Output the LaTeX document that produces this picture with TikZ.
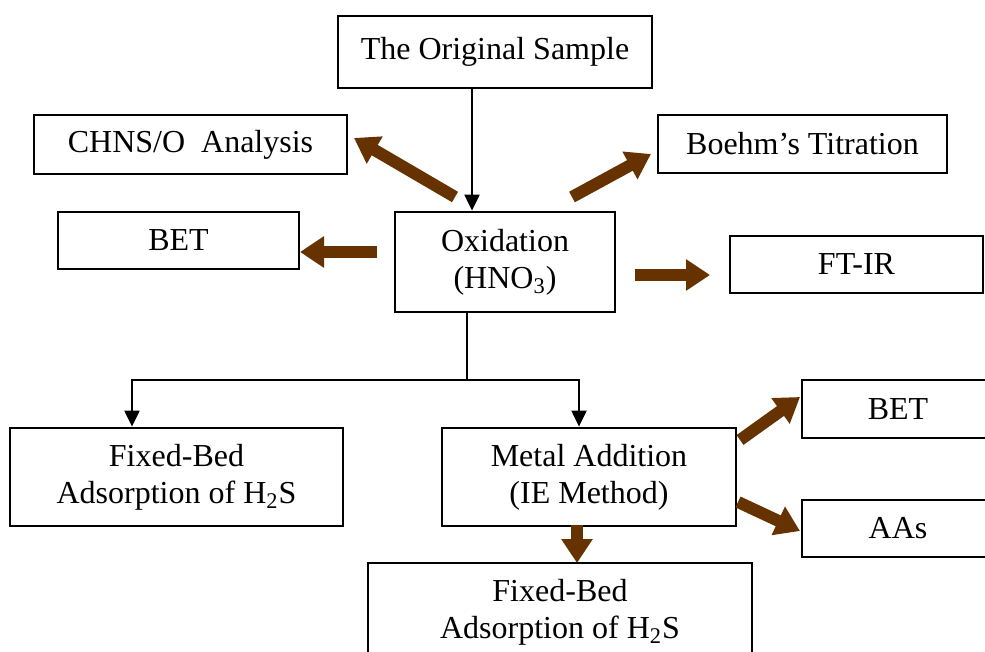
\documentclass[tikz,border=0pt]{standalone}
\usepackage{fontspec}
\setmainfont{Liberation Serif}
\usetikzlibrary{arrows.meta}
\definecolor{arrowbrown}{RGB}{102,51,0}
\tikzset{
  box/.style={draw, line width=1.4pt, fill=white, inner sep=0pt, align=center,
    font=\fontsize{16}{18.5}\selectfont},
  thin/.style={line width=1.1pt, -{Triangle[width=7.5pt,length=8pt]}},
  fat/.style={draw=arrowbrown, line width=6pt, -{Triangle[width=15pt,length=12pt]}}
}
\begin{document}
\begin{tikzpicture}[x=0.5pt,y=-0.5pt]
\useasboundingbox (0,0) rectangle (985,652);
\clip (0,0) rectangle (985,652);
% boxes
\node[box, minimum width=157pt, minimum height=36pt] (orig) at (495,52) {The Original Sample};
\node[box, minimum width=156.5pt, minimum height=29.5pt] (chns) at (190.5,144.5) {CHNS/O~~Analysis};
\node[box, minimum width=144.5pt, minimum height=29pt] (boehm) at (802.5,144) {Boehm’s Titration};
\node[box, minimum width=120.5pt, minimum height=28.5pt] (betL) at (178.5,240.5) {BET};
\node[box, minimum width=110pt, minimum height=50pt] (oxid) at (505,262) {Oxidation\\(HNO\textsubscript{3})};
\node[box, minimum width=126.5pt, minimum height=28.5pt] (ftir) at (856.5,264.5) {FT-IR};
\node[box, minimum width=166.5pt, minimum height=49pt] (fbL) at (176.5,477) {Fixed-Bed\\Adsorption of H\textsubscript{2}S};
\node[box, minimum width=147pt, minimum height=49pt] (metal) at (589,477) {Metal Addition\\(IE Method)};
\node[box, minimum width=96pt, minimum height=29pt] (betR) at (898,409) {BET};
\node[box, minimum width=96pt, minimum height=28.5pt] (aas) at (898,528.5) {AAs};
\node[box, minimum width=192pt, minimum height=49.5pt] (fbB) at (560,612.5) {Fixed-Bed\\Adsorption of H\textsubscript{2}S};
% black connectors
\coordinate (c1) at (472,0);
\coordinate (j) at (467,380);
\coordinate (jl) at (132,380);
\coordinate (jr) at (579,380);
\draw[thin] (orig.south -| c1) -- (oxid.north -| c1);
\draw[line width=1.1pt] (oxid.south -| j) -- (j);
\draw[thin] (j) -- (jl) -- (fbL.north -| jl);
\draw[thin] (j) -- (jr) -- (metal.north -| jr);
% brown arrows
\coordinate (t1) at (455,197); \coordinate (h1) at (354,138);
\coordinate (t2) at (572,197); \coordinate (h2) at (651,154);
\coordinate (t3) at (377,252); \coordinate (h3) at (300,252);
\coordinate (t4) at (635,275); \coordinate (h4) at (710,275);
\coordinate (t5) at (740,440); \coordinate (h5) at (800,397);
\coordinate (t6) at (738,502); \coordinate (h6) at (800,531);
\coordinate (t7) at (577,525); \coordinate (h7) at (577,563);
\draw[fat] (t1) -- (h1);
\draw[fat] (t2) -- (h2);
\draw[fat] (t3) -- (h3);
\draw[fat] (t4) -- (h4);
\draw[fat] (t5) -- (h5);
\draw[fat] (t6) -- (h6);
\draw[fat] (t7) -- (h7);
\end{tikzpicture}
\end{document}
